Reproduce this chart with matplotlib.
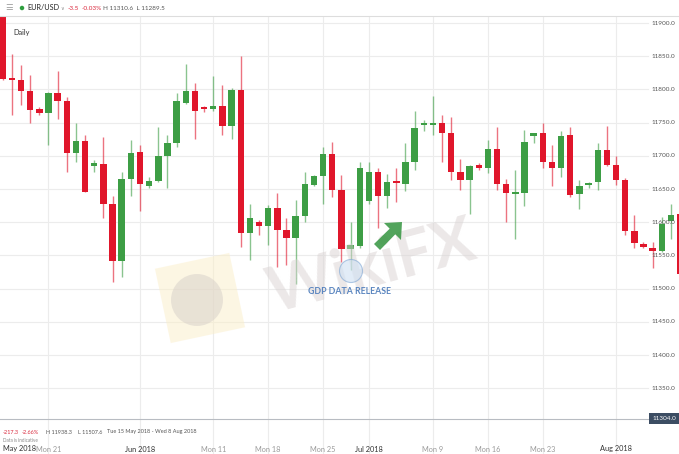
import numpy as np
import matplotlib
matplotlib.use('Agg')
import matplotlib.pyplot as plt
from matplotlib.patches import Ellipse, Polygon

plt.rcParams['font.family'] = ['Lato', 'DejaVu Sans']

# daily EUR/USD candles (price x 10000), Tue 15 May 2018 onwards, Sunday sessions included
opens = [11925, 11816, 11814, 11797, 11770, 11765, 11794, 11782, 11704, 11722,
         11685, 11688, 11627, 11541, 11665, 11705, 11654, 11662, 11699, 11720,
         11780, 11797, 11772, 11770, 11775, 11745, 11799, 11584, 11601, 11594,
         11622, 11589, 11576, 11610, 11656, 11670, 11702, 11649, 11560, 11564,
         11632, 11676, 11639, 11661, 11657, 11691, 11746, 11747, 11749, 11735,
         11675, 11663, 11686, 11682, 11710, 11658, 11642, 11644, 11730, 11734,
         11691, 11681, 11731, 11642, 11656, 11660, 11708, 11686, 11663, 11587,
         11567, 11561, 11557, 11602, 11612]
highs = [11938.3, 11853, 11836, 11821, 11774, 11796, 11828, 11789, 11749, 11732,
         11693, 11728, 11639, 11676, 11724, 11717, 11668, 11744, 11732, 11794,
         11839, 11809, 11775, 11820, 11807, 11802, 11851, 11627, 11603, 11626,
         11644, 11606, 11634, 11675, 11671, 11713, 11721, 11671, 11601, 11690,
         11691, 11682, 11673, 11681, 11719, 11767, 11754, 11790, 11762, 11758,
         11695, 11686, 11689, 11724, 11744, 11665, 11678, 11739, 11735, 11750,
         11717, 11738, 11743, 11664, 11661, 11719, 11745, 11699, 11666, 11611,
         11570, 11570, 11608, 11627, 11627]
lows = [11814, 11762, 11776, 11749, 11761, 11717, 11755, 11675, 11690, 11645,
        11675, 11607, 11510, 11518, 11640, 11617, 11652, 11661, 11651, 11713,
        11778, 11725, 11766, 11768, 11732, 11725, 11563, 11543, 11581, 11566,
        11532, 11536, 11507.6, 11601, 11654, 11628, 11638, 11540, 11528, 11561,
        11628, 11591, 11621, 11630, 11647, 11679, 11737, 11732, 11690, 11663,
        11649, 11613, 11678, 11674, 11649, 11601, 11574, 11625, 11719, 11682,
        11654, 11668, 11638, 11620, 11652, 11648, 11684, 11656, 11581, 11561,
        11561, 11531, 11555, 11574, 11520]
closes = [11816, 11814, 11797, 11769, 11765, 11795, 11782, 11704, 11722, 11646,
          11689, 11627, 11541, 11665, 11704, 11658, 11662, 11700, 11720, 11782,
          11797, 11767, 11770, 11775, 11745, 11799, 11584, 11606, 11594, 11622,
          11589, 11576, 11610, 11657, 11670, 11702, 11649, 11560, 11565, 11682,
          11675, 11639, 11660, 11659, 11691, 11742, 11749, 11750, 11735, 11675,
          11663, 11685, 11682, 11710, 11657, 11644, 11644, 11721, 11734, 11690,
          11681, 11730, 11641, 11655, 11659, 11708, 11686, 11663, 11586, 11568,
          11563, 11557, 11597, 11611, 11522]

tick_pos = [5, 15, 23, 29, 35, 40, 47, 53, 59, 67]
tick_labels = ['Mon 21', 'Jun 2018', 'Mon 11', 'Mon 18', 'Mon 25',
               'Jul 2018', 'Mon 9', 'Mon 16', 'Mon 23', 'Aug 2018']
price_levels = [11350, 11400, 11450, 11500, 11550, 11600, 11650, 11700, 11750, 11800, 11850, 11900]
last_price = 11304.0

W, H = 679, 454
RED = '#e0162b'
GREEN = '#3d9e45'


def px(x, y):
    # pixel position (from top-left) to figure fraction
    return x / W, 1 - y / H


fig = plt.figure(figsize=(W / 100, H / 100), dpi=100)
ax = fig.add_axes([0, 0, 1, 1 - 16 / H])
x0, dx = 2.7, 9.154
ax.set_xlim(-x0 / dx, (W - x0) / dx)
ax.set_ylim(11900 - (H - 23) / 0.664, 11900 + 7 / 0.664)
ax.axis('off')

# grid
grid_end = 648 / W
for p in price_levels:
    ax.axhline(p, xmin=0, xmax=grid_end, color='#ececec', lw=0.8, zorder=0)
for t in tick_pos:
    ax.axvline(t, color='#ececec', lw=0.8, zorder=0)
ax.axhline(last_price, xmin=0, xmax=grid_end + 0.01, color='#b8bcc2', lw=0.8, zorder=1)

# candles
o = np.array(opens)
h = np.array(highs)
l = np.array(lows)
c = np.array(closes)
idx = np.arange(len(o))
cols = np.where(c >= o, GREEN, RED)
ax.vlines(idx, l, h, colors=cols, lw=1.0, alpha=0.6, zorder=2)
body_lo = np.minimum(o, c)
body_h = np.maximum(np.abs(c - o), 3)
ax.bar(idx, body_h, bottom=body_lo, width=0.7, color=cols, lw=0, zorder=3)

# watermark
th = np.deg2rad(-12)
cx, cy, s = 200, 298, 38
sq = []
for a, b in [(-s, -s), (s, -s), (s, s), (-s, s)]:
    sq.append(px(cx + a * np.cos(th) - b * np.sin(th), cy + a * np.sin(th) + b * np.cos(th)))
fig.patches.append(Polygon(sq, closed=True, transform=fig.transFigure, fc='#fbeec8', ec='none',
                           alpha=0.5, zorder=1, joinstyle='round'))
fig.patches.append(Ellipse(px(197, 300), 52 / W, 52 / H, transform=fig.transFigure,
                           fc='#d6cfc9', ec='none', alpha=0.5, zorder=1))
fig.text(*px(372, 268), 'WikiFX', fontsize=46, fontweight='bold', color='#d9d2d2', alpha=0.5,
         rotation=15, ha='center', va='center', zorder=1)

# GDP annotation
fig.patches.append(Ellipse(px(351, 271), 23 / W, 23 / H, transform=fig.transFigure,
                           fc='#cfe0f3', ec='#7fa6d3', lw=0.8, alpha=0.6, zorder=4))
fig.text(*px(350, 292), 'GDP DATA RELEASE', fontsize=6.3, color='#5b86c0', fontweight='bold',
         ha='center', va='center')
arrow = [(374, 244), (389.7, 228.7), (384, 223), (402, 222), (401, 240), (395.3, 234.3), (380, 250)]
fig.patches.append(Polygon([px(a, b) for a, b in arrow], closed=True, transform=fig.transFigure,
                           fc='#3f9a4a', ec='none', alpha=0.9, zorder=5))

# price axis labels
for p in price_levels:
    ax.text((675 - x0) / dx, p, '%.1f' % p, fontsize=4.6, color='#555555', ha='right',
            va='center', zorder=6)
ax.text((676 - x0) / dx, last_price, '%.1f' % last_price, fontsize=4.6, color='white',
        ha='right', va='center', zorder=7,
        bbox=dict(boxstyle='square,pad=0.45', fc='#3c4d63', ec='none'))

# time axis labels
fig.text(*px(3, 449), 'May 2018', fontsize=5.3, color='#333333', ha='left', va='center')
for t, lab in zip(tick_pos, tick_labels):
    month = 'Mon' not in lab
    fig.text(*px(x0 + dx * t, 449), lab, fontsize=5.3, ha='center', va='center',
             color='#333333' if month else '#9a9a9a')

# header
fig.add_artist(plt.Line2D([0, 1], [1 - 16 / H] * 2, color='#dddddd', lw=0.8))
fig.text(*px(5, 8), '\u2630', fontsize=6, color='#999999', va='center')
fig.patches.append(Ellipse(px(22, 8), 4.5 / W, 4.5 / H, transform=fig.transFigure,
                           fc='#2e9e3e', ec='none'))
fig.text(*px(27, 8), 'EUR/USD', fontsize=5.2, color='#222222', va='center')
fig.text(*px(60.5, 8), '\u2228', fontsize=3.6, color='#888888', va='center')
fig.text(*px(68, 8), '-3.5', fontsize=4.6, color='#d9263a', va='center')
fig.text(*px(82, 8), '-0.03%', fontsize=4.6, color='#d9263a', va='center')
fig.text(*px(103, 8), 'H 11310.6  L 11289.5', fontsize=4.6, color='#555555', va='center')
fig.text(*px(13, 33), 'Daily', fontsize=5.3, color='#333333', va='center')

# footer stats
fig.text(*px(3, 432), '-217.3', fontsize=4.0, color='#d9263a', va='center')
fig.text(*px(22, 432), '-2.66%', fontsize=4.0, color='#d9263a', va='center')
fig.text(*px(46, 432), 'H 11938.3', fontsize=4.0, color='#555555', va='center')
fig.text(*px(78, 432), 'L 11507.6', fontsize=4.0, color='#555555', va='center')
fig.text(*px(107, 432), 'Tue 15 May 2018 - Wed 8 Aug 2018', fontsize=4.0, color='#555555',
         va='center')
fig.text(*px(3, 441), 'Data is indicative', fontsize=3.3, color='#888888', va='center')

fig.savefig('out.png', dpi=100)
